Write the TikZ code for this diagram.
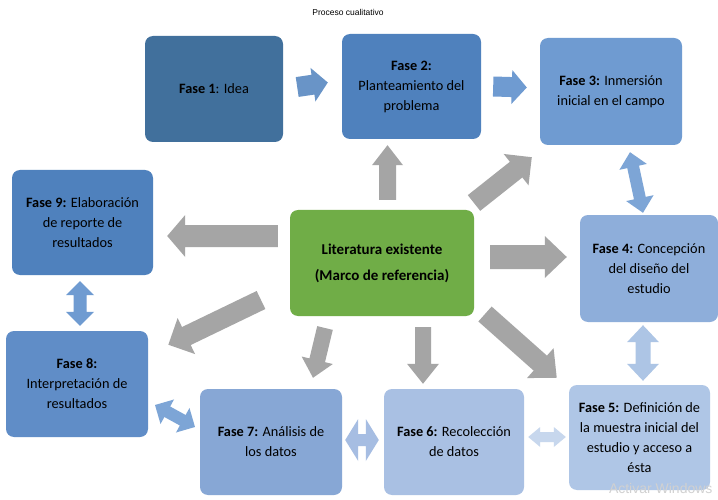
\documentclass[tikz,border=0pt]{standalone}
\usepackage{fontspec}
\setmainfont{Carlito}
\newfontfamily\arialf{Liberation Sans}
\usetikzlibrary{calc}
\definecolor{cF1}{HTML}{41709C}
\definecolor{cF2}{HTML}{4F81BD}
\definecolor{cF3}{HTML}{6F9BD1}
\definecolor{cF4}{HTML}{8EAEDA}
\definecolor{cF5}{HTML}{AFC6E6}
\definecolor{cF6}{HTML}{A9C0E3}
\definecolor{cF7}{HTML}{87A7D5}
\definecolor{cF8}{HTML}{608DC7}
\definecolor{cF9}{HTML}{4F81BD}
\definecolor{cLit}{HTML}{70AD47}
\definecolor{cGray}{HTML}{A5A5A5}
\newcommand\barrow[6]{% style, tail, tip, shaft half, head half, head length
  \fill[#1] let \p1=#2, \p2=#3, \n1={atan2(\y2-\y1,\x2-\x1)}, \n2={veclen(\x2-\x1,\y2-\y1)} in
  [shift={(\p1)}, rotate=\n1]
  (0pt,{-#4*1pt}) -- ({(\n2-#6)*1pt},{-#4*1pt}) -- ({(\n2-#6)*1pt},{-#5*1pt}) -- ({\n2*1pt},0pt)
  -- ({(\n2-#6)*1pt},{#5*1pt}) -- ({(\n2-#6)*1pt},{#4*1pt}) -- (0pt,{#4*1pt}) -- cycle;
}
\newcommand\dbarrow[6]{% style, end a, end b, shaft half, head half, head length
  \fill[#1] let \p1=#2, \p2=#3, \n1={atan2(\y2-\y1,\x2-\x1)}, \n2={veclen(\x2-\x1,\y2-\y1)} in
  [shift={(\p1)}, rotate=\n1]
  (0pt,0pt) -- ({#6*1pt},{-#5*1pt}) -- ({#6*1pt},{-#4*1pt}) -- ({(\n2-#6)*1pt},{-#4*1pt}) -- ({(\n2-#6)*1pt},{-#5*1pt}) -- ({\n2*1pt},0pt)
  -- ({(\n2-#6)*1pt},{#5*1pt}) -- ({(\n2-#6)*1pt},{#4*1pt}) -- ({#6*1pt},{#4*1pt}) -- ({#6*1pt},{#5*1pt}) -- cycle;
}
\tikzset{
  phase/.style={rounded corners=8pt, inner sep=0pt, align=center, text=black,
    font=\fontsize{14.3}{20}\selectfont},
  garrow/.style={cGray},
}
\begin{document}
\begin{tikzpicture}[x=1pt,y=-1pt]
\useasboundingbox (0,0) rectangle (718,500);
\fill[white] (0,0) rectangle (718,500);
\node[font=\arialf\fontsize{8.5}{10}\selectfont, text=black] (title) at (348,12) {Proceso cualitativo};

\node[phase, fill=cF1, minimum width=138pt, minimum height=106pt] (f1) at (214,89) {\textbf{Fase 1}: Idea};
\node[phase, fill=cF2, minimum width=139pt, minimum height=105pt] (f2) at (411.5,86.5) {\textbf{Fase 2:}\\Planteamiento del\\problema};
\node[phase, fill=cF3, minimum width=142pt, minimum height=107pt] (f3) at (611,91.5) {\textbf{Fase 3:} Inmersión\\inicial en el campo};
\node[phase, fill=cF9, minimum width=141pt, minimum height=105pt] (f9) at (82.5,222.5) {\textbf{Fase 9:} Elaboración\\de reporte de\\resultados};
\node[phase, fill=cLit, minimum width=184pt, minimum height=106pt, font=\bfseries\fontsize{15}{26}\selectfont] (lit) at (382,263) {Literatura existente\\(Marco de referencia)};
\node[phase, fill=cF4, minimum width=138pt, minimum height=107pt] (f4) at (649,268.5) {\textbf{Fase 4:} Concepción\\del diseño del\\estudio};
\node[phase, fill=cF8, minimum width=142pt, minimum height=106pt] (f8) at (77,384) {\textbf{Fase 8:}\\Interpretación de\\resultados};
\node[phase, fill=cF7, minimum width=142pt, minimum height=106pt] (f7) at (271,442) {\textbf{Fase 7:} Análisis de\\los datos};
\node[phase, fill=cF6, minimum width=140pt, minimum height=106pt] (f6) at (454,442) {\textbf{Fase 6:} Recolección\\de datos};
\node[phase, fill=cF5, minimum width=141pt, minimum height=105pt] (f5) at (639.5,437.5) {\textbf{Fase 5:} Definición de\\la muestra inicial del\\estudio y acceso a\\ésta};

% blue arrows between top phases
\barrow{fill=cF2!85!white}{($(f1.east)+(14,-2)$)}{($(f2.west)+(-14,-4)$)}{10}{17}{15}
\barrow{fill=cF3}{($(f2.east)+(12,0)$)}{($(f3.west)+(-13,-4)$)}{10}{17}{15}

% gray arrows from literature
\barrow{garrow}{($(lit.north)+(5.5,-10)$)}{($(f2.south)+(-24,6)$)}{8.5}{15.5}{20}
\barrow{garrow}{($(lit.west)+(-12,-27)$)}{($(f9.east)+(14,13.5)$)}{11}{21}{18}
\barrow{garrow}{(474,203)}{($(f3.south west)+(-8,12)$)}{10}{20}{20}
\barrow{garrow}{($(lit.east)+(16,-6)$)}{($(f4.west)+(-13,-11.5)$)}{12}{21}{22}
\barrow{garrow}{(261,300)}{($(f8.north east)+(20,14)$)}{10}{20}{20}
\barrow{garrow}{(325,328)}{($(f7.north)+(42,-11)$)}{8}{16}{18}
\barrow{garrow}{(423,327)}{($(f6.north)+(-31,-5)$)}{8}{16}{20}
\barrow{garrow}{(485,314)}{($(f5.north west)+(-12,-7)$)}{10}{20}{22}

% double arrows between phases
\dbarrow{fill=cF3!90!white}{($(f3.south)+(19,7)$)}{($(f4.north)+(-6,-2)$)}{6}{14}{15}
\dbarrow{fill=cF3}{($(f9.south)+(-2.5,6)$)}{($(f8.north)+(3,-5)$)}{6.5}{14}{14}
\dbarrow{fill=cF3!90!white}{(155,405)}{(195,427)}{6}{14}{14}
\dbarrow{fill=cF6!90!cF7}{($(f7.east)+(3,-2)$)}{($(f6.west)+(-5,-2)$)}{6}{21}{13}
\dbarrow{fill=cF5!70!white}{($(f6.east)+(4,-5)$)}{($(f5.west)+(-3,-0.5)$)}{5}{10}{12}
\dbarrow{fill=cF5!95!cF4}{($(f4.south)+(-6,3)$)}{($(f5.north)+(3.5,-4)$)}{7.5}{16}{17}

\node[font=\arialf\fontsize{14}{16}\selectfont, text=black!18, anchor=east] (wm) at (716,488) {Activar Windows};
\end{tikzpicture}
\end{document}
